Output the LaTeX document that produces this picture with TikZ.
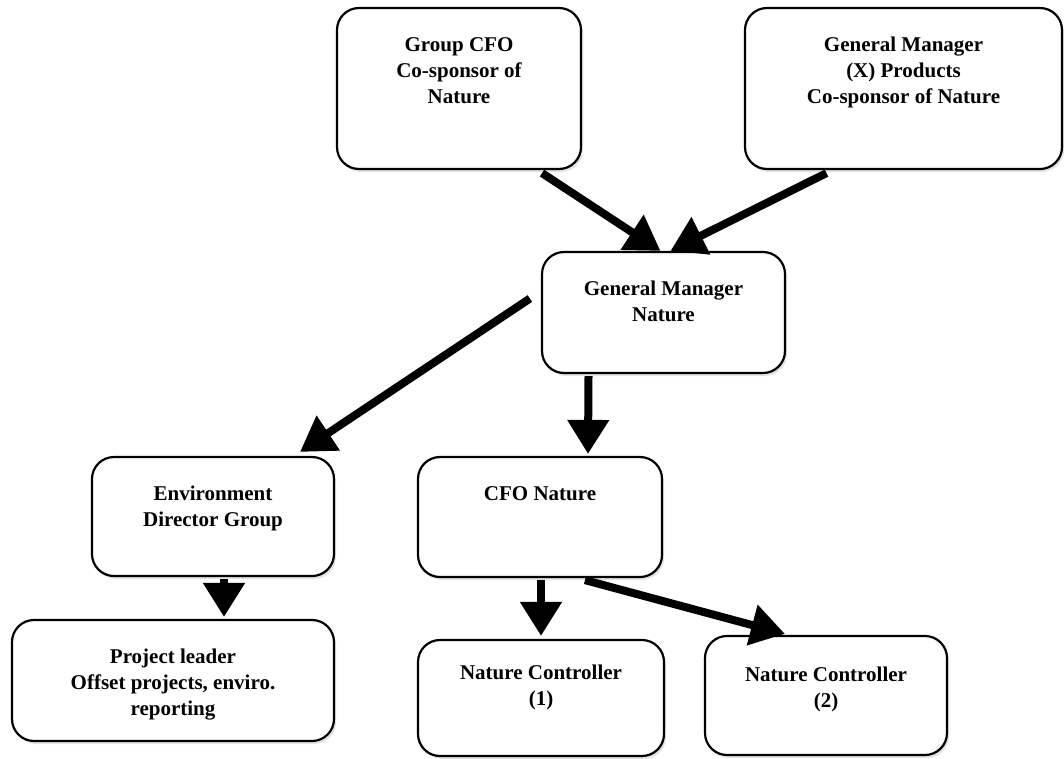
\documentclass[tikz,border=0pt]{standalone}
\usepackage{fontspec}
\setmainfont{Liberation Serif}
\usetikzlibrary{arrows.meta,shadows,calc}
\begin{document}
\begin{tikzpicture}[x=1pt,y=-1pt,
  box/.style={draw, line width=2.2pt, rounded corners=22pt, fill=white,
    drop shadow={opacity=0.22, shadow xshift=2pt, shadow yshift=-3pt}},
  txt/.style={font=\fontsize{21}{26}\selectfont\bfseries, align=center, anchor=north, inner sep=0pt},
  arr/.style={line width=8pt, -{Triangle[width=40pt,length=34pt]}}]
\useasboundingbox (0,0) rectangle (1064,758);
% boxes
\node[box, minimum width=244pt, minimum height=161pt] (gcfo) at (459,88.5) {};
\node[box, minimum width=317pt, minimum height=161pt] (gmx) at (903.5,88.5) {};
\node[box, minimum width=243pt, minimum height=121pt] (gmn) at (663.5,312.5) {};
\node[box, minimum width=242pt, minimum height=119pt] (env) at (213,516.5) {};
\node[box, minimum width=244pt, minimum height=120pt] (cfo) at (540,517) {};
\node[box, minimum width=322pt, minimum height=121pt] (pl) at (173,680.5) {};
\node[box, minimum width=246pt, minimum height=116pt] (nc1) at (541,698) {};
\node[box, minimum width=242pt, minimum height=119pt] (nc2) at (826,695.5) {};
% texts
\node[txt] (gcfo-t) at ($(gcfo.north)+(0,30)$) {Group CFO\\Co-sponsor of\\Nature};
\node[txt] (gmx-t) at ($(gmx.north)+(0,30)$) {General Manager\\(X) Products\\Co-sponsor of Nature};
\node[txt] (gmn-t) at ($(gmn.north)+(0,30)$) {General Manager\\Nature};
\node[txt] (env-t) at ($(env.north)+(0,30)$) {Environment\\Director Group};
\node[txt] (cfo-t) at ($(cfo.north)+(0,30)$) {CFO Nature};
\node[txt] (pl-t) at ($(pl.north)+(0,30)$) {Project leader\\Offset projects, enviro.\\reporting};
\node[txt] (nc1-t) at ($(nc1.north)+(0,26)$) {Nature Controller\\(1)};
\node[txt] (nc2-t) at ($(nc2.north)+(0,32)$) {Nature Controller\\(2)};
% arrows
\draw[arr] ($(gcfo.south)+(83,3)$) -- ($(gmn.north)+(-3,0)$);
\draw[arr] ($(gmx.south)+(-77,3)$) -- ($(gmn.north)+(7,0)$);
\draw[arr] ($(gmn.west)+(-11,-14)$) -- ($(env.north)+(87,-4)$);
\draw[arr] ($(gmn.south)+(-75,2)$) -- ($(cfo.north)+(48,-2)$);
\draw[arr] ($(env.south)+(11,2)$) -- ($(pl.north)+(51,-2)$);
\draw[arr] ($(cfo.south)+(1,2)$) -- ($(nc1.north)+(0,-3)$);
\draw[arr] ($(cfo.south)+(45,2)$) -- ($(nc2.north)+(-41,-1)$);
\end{tikzpicture}
\end{document}
